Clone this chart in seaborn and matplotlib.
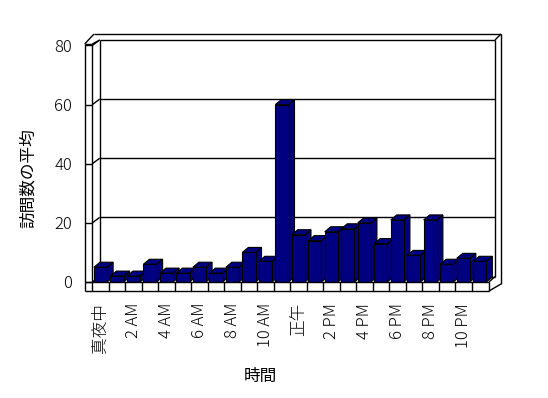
import matplotlib
matplotlib.use('Agg')
import matplotlib.pyplot as plt
import seaborn as sns
import pandas as pd
from matplotlib.patches import Polygon

hours = ['真夜中', '1 AM', '2 AM', '3 AM', '4 AM', '5 AM', '6 AM', '7 AM', '8 AM', '9 AM',
         '10 AM', '11 AM', '正午', '1 PM', '2 PM', '3 PM', '4 PM', '5 PM', '6 PM', '7 PM',
         '8 PM', '9 PM', '10 PM', '11 PM']
visits = [5, 2, 2, 6, 3, 3, 5, 3, 5, 10, 7, 60, 16, 14, 17, 18, 20, 13, 21, 9, 21, 6, 8, 7]
tick_labels = ['真夜中', '2 AM', '4 AM', '6 AM', '8 AM', '10 AM', '正午', '2 PM', '4 PM',
               '6 PM', '8 PM', '10 PM']
yticks = [0, 20, 40, 60, 80]
x_title = '時間'
y_title = '訪問数の平均'
bar_color = '#000080'

sns.set_theme(style='white')
plt.rcParams['font.family'] = ['Noto Sans CJK JP', 'DejaVu Sans']
plt.rcParams['font.weight'] = 'light'

W, H = 548, 398
fig = plt.figure(figsize=(W / 100, H / 100), dpi=100)
fig.patch.set_facecolor('white')

# front plane in pixel coordinates
L, R, B, T = 92.3, 488.0, 282.0, 45.5
ax = fig.add_axes([L / W, (H - B) / H, (R - L) / W, (B - T) / H])
ax.set_facecolor('none')

df = pd.DataFrame({x_title: hours, y_title: visits})
sns.barplot(data=df, x=x_title, y=y_title, order=hours, color=bar_color, saturation=1,
            width=0.8, edgecolor='black', linewidth=0.8, errorbar=None, ax=ax)

ax.set_xlim(-0.5, len(hours) - 0.5)
ax.set_ylim(0, 80)
for s in ax.spines.values():
    s.set_visible(False)

ux = len(hours) / (R - L)
uy = 80 / (B - T)


def X(px):
    return -0.5 + (px - L) * ux


def Y(py):
    return (B - py) * uy


def seg(p1, p2, z=1):
    ax.plot([X(p1[0]), X(p2[0])], [Y(p1[1]), Y(p2[1])], color='black', lw=1,
            clip_on=False, zorder=z, solid_capstyle='butt')


# back wall (inner face)
BWL, BWR, BWT, BWB = 99.7, 495.0, 40.0, 276.5
seg((BWL, BWT), (BWL, BWB))
seg((BWL, BWT), (BWR, BWT))
seg((BWR, BWT), (BWR, BWB))
seg((BWL, BWB), (BWR, BWB))
# outer frame of back wall
seg((94, 34), (501, 34))
seg((501, 34), (501, 284))
seg((BWR, BWT), (501, 34))
# left wall
seg((84.7, 44), (84.7, 291))
seg((L, 44), (L, 291))
seg((84.7, 44), (L, 44))
seg((84.7, 44), (94, 34))
seg((L, 44), (BWL, BWT))

# gridlines and ticks
for v in yticks:
    py = B - v / uy
    if v not in (0, 80):
        seg((BWL, py - 5.5), (BWR, py - 5.5))
    seg((84.7, py), (L, py))
    seg((L, py), (BWL, py - 5.5))

# floor slab front face
FR = 489.0
seg((84.7, B), (FR, B), z=10)
seg((84.7, 291), (FR, 291), z=10)
seg((FR, B), (FR, 291), z=10)
seg((FR, 291), (501, 284), z=10)
seg((FR, B), (BWR, BWB), z=1)
for i in range(1, len(hours)):
    ax.plot([i - 0.5, i - 0.5], [Y(B), Y(291)], color='black', lw=1, clip_on=False, zorder=10)

# 3D faces for bars
bdx, bdy = 6 * ux, 5 * uy
for i, p in enumerate(ax.patches):
    x0, w, h = p.get_x(), p.get_width(), p.get_height()
    z = 3 + i * 0.01
    p.set_zorder(z + 0.005)
    top = Polygon([(x0, h), (x0 + w, h), (x0 + w + bdx, h + bdy), (x0 + bdx, h + bdy)],
                  closed=True, fc=bar_color, ec='black', lw=0.8, zorder=z, clip_on=False)
    side = Polygon([(x0 + w, 0), (x0 + w, h), (x0 + w + bdx, h + bdy), (x0 + w + bdx, bdy)],
                   closed=True, fc=bar_color, ec='black', lw=0.8, zorder=z, clip_on=False)
    ax.add_patch(side)
    ax.add_patch(top)

ax.set_yticks(yticks)
ax.set_yticklabels([str(v) for v in yticks])
ax.tick_params(axis='y', length=0, pad=14.5, labelsize=12, colors='black')
ax.set_xticks(range(0, len(hours), 2))
ax.set_xticklabels(tick_labels, rotation=90)
ax.tick_params(axis='x', length=0, pad=15, labelsize=12, colors='black')

ax.set_xlabel(x_title, fontsize=12, color='black')
ax.xaxis.set_label_coords((260 - L) / (R - L), (B - 376) / (B - T))
ax.xaxis.label.set_va('center')
ax.set_ylabel(y_title, fontsize=12, color='black')
ax.yaxis.set_label_coords((28 - L) / (R - L), (B - 178) / (B - T))
ax.yaxis.label.set_va('center')

fig.savefig('out.png', dpi=100, facecolor='white')
